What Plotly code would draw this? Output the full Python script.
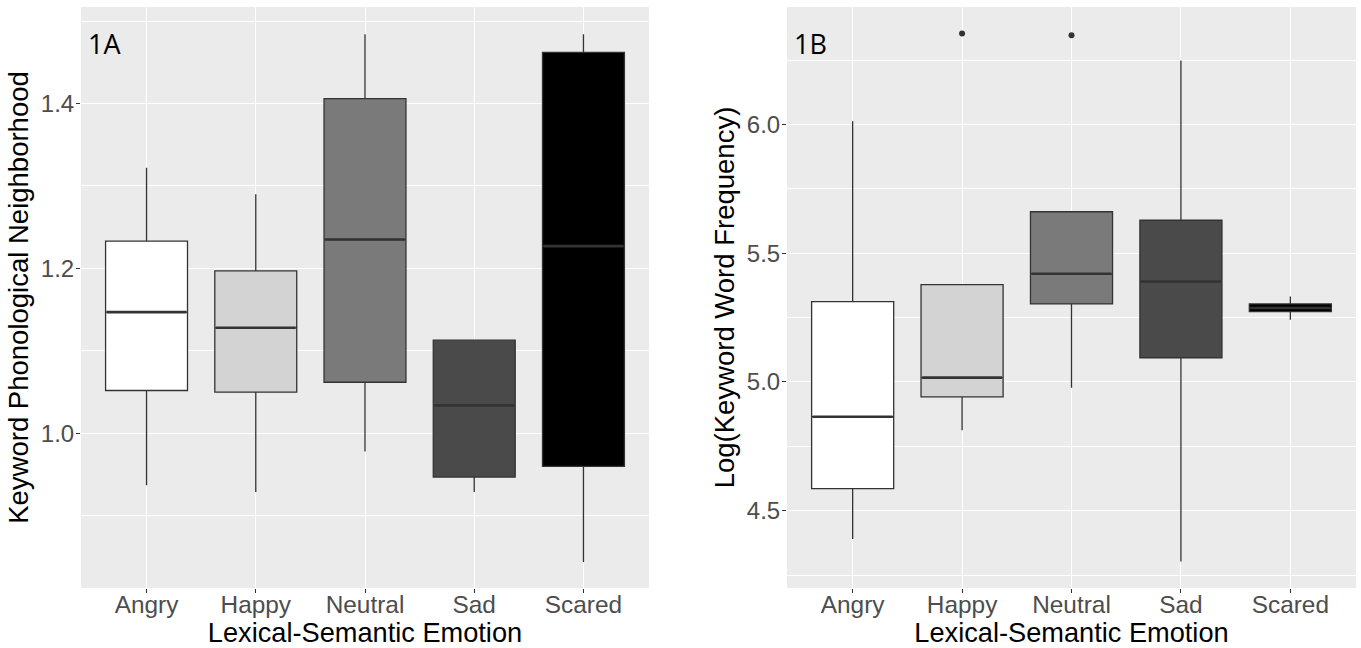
import plotly.graph_objects as go

categories = ["Angry", "Happy", "Neutral", "Sad", "Scared"]
fill_colors = ["#FFFFFF", "#D3D3D3", "#7A7A7A", "#4A4A4A", "#000000"]

# Panel 1A: Keyword Phonological Neighborhood
a_lower = [0.937, 0.929, 0.978, 0.929, 0.844]
a_q1 = [1.052, 1.050, 1.062, 0.947, 0.960]
a_median = [1.147, 1.128, 1.235, 1.034, 1.227]
a_q3 = [1.233, 1.197, 1.406, 1.113, 1.462]
a_upper = [1.322, 1.290, 1.484, 1.113, 1.484]

# Panel 1B: Log(Keyword Word Frequency)
b_lower = [4.390, 4.813, 4.978, 4.303, 5.242]
b_q1 = [4.586, 4.942, 5.303, 5.094, 5.273]
b_median = [4.865, 5.017, 5.420, 5.390, 5.287]
b_q3 = [5.312, 5.378, 5.661, 5.628, 5.303]
b_upper = [6.012, 5.378, 5.661, 6.248, 5.332]
b_out_cat = ["Happy", "Neutral"]
b_out_val = [6.353, 6.346]

positions = list(range(1, len(categories) + 1))
BOX_W = 0.75
EDGE = "#333333"
FONT = "Liberation Sans"

fig = go.Figure()


def add_panel(xa, ya, lower, q1, med, q3, upper):
    for i, cat in enumerate(categories):
        fig.add_trace(go.Box(
            x=[positions[i]], q1=[q1[i]], median=[med[i]], q3=[q3[i]],
            lowerfence=[lower[i]], upperfence=[upper[i]],
            width=BOX_W, whiskerwidth=0,
            fillcolor=fill_colors[i], line=dict(color=EDGE, width=1.3),
            xaxis=xa, yaxis=ya, showlegend=False, hoverinfo="skip",
            name=cat,
        ))
        fig.add_trace(go.Scatter(
            x=[positions[i] - BOX_W / 2 + 0.01, positions[i] + BOX_W / 2 - 0.01],
            y=[med[i], med[i]], mode="lines",
            line=dict(color=EDGE, width=2.6),
            xaxis=xa, yaxis=ya, showlegend=False, hoverinfo="skip",
        ))


add_panel("x", "y", a_lower, a_q1, a_median, a_q3, a_upper)
add_panel("x2", "y2", b_lower, b_q1, b_median, b_q3, b_upper)

fig.add_trace(go.Scatter(
    x=[positions[categories.index(c)] for c in b_out_cat], y=b_out_val,
    mode="markers", marker=dict(color=EDGE, size=6),
    xaxis="x2", yaxis="y2", showlegend=False, hoverinfo="skip",
))

xcommon = dict(
    tickmode="array", tickvals=positions, ticktext=categories,
    range=[0.4, 5.6], showgrid=True, gridcolor="white", gridwidth=1.4,
    zeroline=False, ticks="outside", ticklen=4, tickcolor=EDGE, tickwidth=1,
    ticklabelstandoff=-9,
    tickfont=dict(family=FONT, size=24.4, color="#4D4D4D"),
    title=dict(text="Lexical-Semantic Emotion", standoff=2,
               font=dict(family=FONT, size=27.2, color="black")),
    fixedrange=True,
)
ycommon = dict(
    showgrid=True, gridcolor="white", gridwidth=1.4, zeroline=False,
    ticks="outside", ticklen=4, tickcolor=EDGE, tickwidth=1,
    ticklabelstandoff=-3,
    tickfont=dict(family=FONT, size=24, color="#4D4D4D"),
    fixedrange=True,
)

fig.update_layout(
    width=1361, height=648,
    margin=dict(l=0, r=0, t=0, b=0),
    paper_bgcolor="white", plot_bgcolor="#EBEBEB",
    showlegend=False,
    xaxis=dict(xcommon, domain=[81 / 1361, 649 / 1361], anchor="y"),
    xaxis2=dict(xcommon, domain=[787 / 1361, 1356 / 1361], anchor="y2"),
    yaxis=dict(ycommon, domain=[1 - 588 / 648, 1 - 7 / 648], anchor="x",
               range=[0.8125, 1.517], tickmode="array",
               tickvals=[1.0, 1.2, 1.4], ticktext=["1.0", "1.2", "1.4"],
               minor=dict(tickvals=[0.9, 1.1, 1.3, 1.5], showgrid=True,
                          gridcolor="white", gridwidth=0.7, ticks=""),
               title=dict(text="Keyword Phonological Neighborhood", standoff=4,
                          font=dict(family=FONT, size=27.5, color="black"))),
    yaxis2=dict(ycommon, domain=[1 - 588 / 648, 1 - 7 / 648], anchor="x2",
                range=[4.2, 6.456], tickmode="array",
                tickvals=[4.5, 5.0, 5.5, 6.0], ticktext=["4.5", "5.0", "5.5", "6.0"],
                minor=dict(tickvals=[4.25, 4.75, 5.25, 5.75, 6.25], showgrid=True,
                           gridcolor="white", gridwidth=0.7, ticks=""),
                title=dict(text="Log(Keyword Word Frequency)", standoff=4,
                           font=dict(family=FONT, size=27.5, color="black"))),
    annotations=[
        dict(text="1A", x=86 / 1361, y=1 - 44 / 648, xref="paper", yref="paper",
             xanchor="left", yanchor="middle", showarrow=False,
             font=dict(family="Open Sans", size=27, color="black")),
        dict(text="1B", x=792 / 1361, y=1 - 44 / 648, xref="paper", yref="paper",
             xanchor="left", yanchor="middle", showarrow=False,
             font=dict(family="Open Sans", size=27, color="black")),
    ],
)

fig.write_html("out.html")
